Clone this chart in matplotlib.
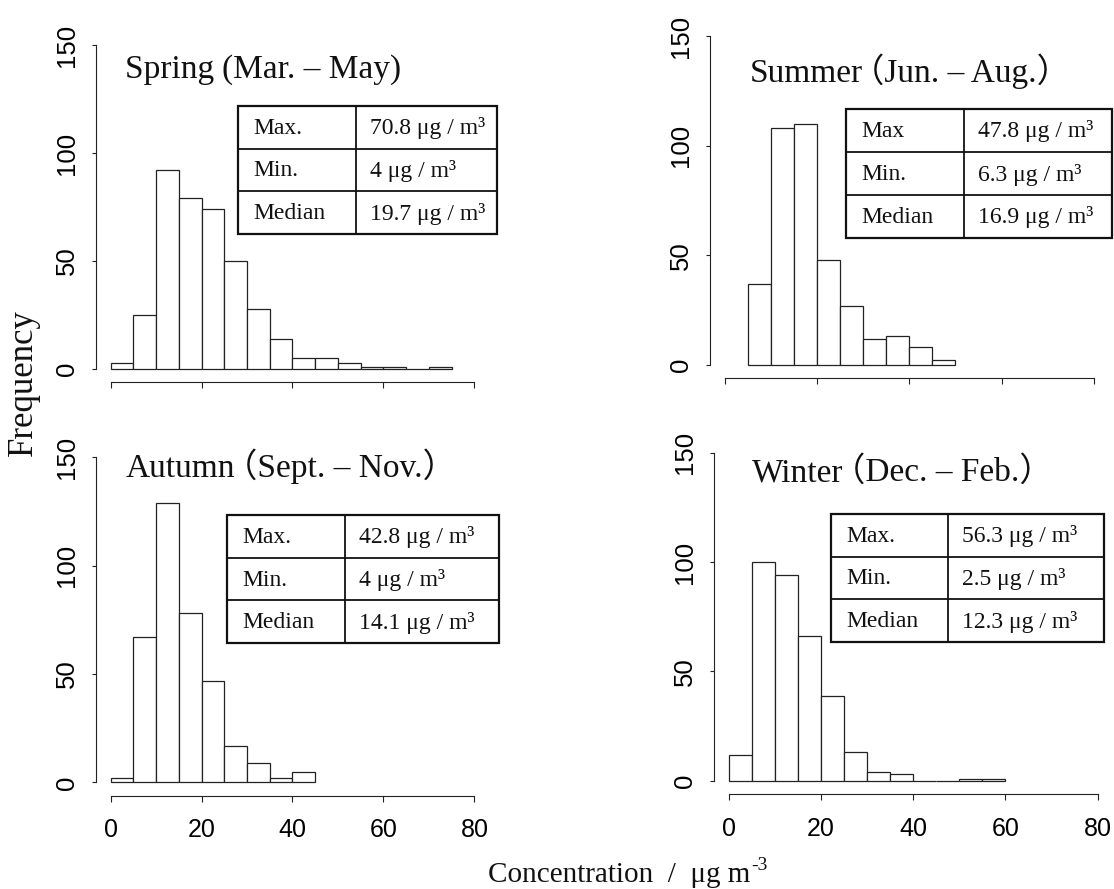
import matplotlib
matplotlib.use("Agg")
import matplotlib.pyplot as plt
import numpy as np

# ---------------- data ----------------
bin_width = 5
spring_start = 0
spring_counts = [3, 25, 92, 79, 74, 50, 28, 14, 5, 5, 3, 1, 1, 0, 1]
summer_start = 5
summer_counts = [37, 108, 110, 48, 27, 12, 13, 8, 2]
autumn_start = 0
autumn_counts = [2, 67, 129, 78, 47, 17, 9, 2, 5]
winter_start = 0
winter_counts = [12, 100, 94, 66, 39, 13, 4, 3, 0, 0, 1, 1]

# titles split into (name, period) pieces
season_names = ["Spring ", "Summer", "Autumn", "Winter"]
season_periods = ["(Mar. – May)", "（Jun. – Aug.）",
                  "（Sept. – Nov.）", "（Dec. – Feb.）"]
stat_labels_spring = ["Max.", "Min.", "Median"]
stat_labels_summer = ["Max", "Min.", "Median"]
stat_labels_autumn = ["Max.", "Min.", "Median"]
stat_labels_winter = ["Max.", "Min.", "Median"]
spring_stats = ["70.8", "4", "19.7"]
summer_stats = ["47.8", "6.3", "16.9"]
autumn_stats = ["42.8", "4", "14.1"]
winter_stats = ["56.3", "2.5", "12.3"]
unit = " μg / m³"

x_ticks = [0, 20, 40, 60, 80]
y_ticks = [0, 50, 100, 150]
y_label = "Frequency"
x_label_main = "Concentration  /  μg m"
x_label_sup = "-3"

# ---------------- style ----------------
W, H = 1114, 889
fig = plt.figure(figsize=(W / 100, H / 100), dpi=100)
fig.patch.set_facecolor("white")

serif = ["Liberation Serif", "Noto Sans CJK JP", "DejaVu Serif"]
tick_font_y = ["Liberation Sans Narrow", "Liberation Sans", "DejaVu Sans"]
tick_font_x = ["Liberation Sans", "DejaVu Sans"]
line_c = "#222222"
text_c = "#111111"


def px_axes(L, R, T, B):
    return fig.add_axes([L / W, 1 - B / H, (R - L) / W, (B - T) / H])


panels = [
    (spring_counts, spring_start, (96, 489, 32, 382), False),
    (summer_counts, summer_start, (710, 1108.6, 23, 378), False),
    (autumn_counts, autumn_start, (96, 489, 444, 795.5), True),
    (winter_counts, winter_start, (714, 1112.5, 439.5, 794), True),
]

for counts, start, box, show_x in panels:
    ax = px_axes(*box)
    edges = start + bin_width * np.arange(len(counts))
    ax.bar(edges, counts, width=bin_width, align="edge", facecolor="white",
           edgecolor=line_c, linewidth=0.9)
    ax.set_xlim(-3.2, 83.2)
    ax.set_ylim(-6, 156)
    ax.patch.set_alpha(0)
    for s in ["top", "right"]:
        ax.spines[s].set_visible(False)
    ax.spines["left"].set_bounds(0, 150)
    ax.spines["bottom"].set_bounds(0, 80)
    for s in ["left", "bottom"]:
        ax.spines[s].set_linewidth(0.8)
        ax.spines[s].set_color(line_c)
    ax.set_xticks(x_ticks)
    ax.set_yticks(y_ticks)
    ax.tick_params(axis="x", length=4.3, width=0.8, color=line_c, pad=12,
                   labelsize=18, labelbottom=show_x)
    ax.tick_params(axis="y", length=3, width=0.8, color=line_c, pad=9,
                   labelsize=18.5, labelrotation=90)
    for lab in ax.get_yticklabels():
        lab.set_family(tick_font_y)
        lab.set_va("center")
    for lab in ax.get_xticklabels():
        lab.set_family(tick_font_x)

# overlay in pixel coordinates for titles, tables and figure labels
ov = fig.add_axes([0, 0, 1, 1], zorder=10)
ov.set_xlim(0, W)
ov.set_ylim(H, 0)
ov.set_axis_off()
ov.patch.set_alpha(0)

renderer = fig.canvas.get_renderer()


def text_width_px(t):
    bb = t.get_window_extent(renderer=renderer)
    return bb.width


title_size = 24
title_pos = [(125, 78), (750, 82), (126, 477), (752, 481)]
for (tx, ty), name, period in zip(title_pos, season_names, season_periods):
    t1 = ov.text(tx, ty, name, family=serif, fontsize=title_size, ha="left",
                 va="baseline", color=text_c)
    w1 = text_width_px(t1)
    # compress the wide left bearing of full-width bracket
    shift = 0.36 * title_size * 100 / 72 if period.startswith("（") else 0
    ov.text(tx + w1 - shift, ty, period, family=serif, fontsize=title_size,
            ha="left", va="baseline", color=text_c)

tables = [
    (stat_labels_spring, spring_stats, (238, 497, 106, 234, 356)),
    (stat_labels_summer, summer_stats, (846, 1112, 109, 238, 964)),
    (stat_labels_autumn, autumn_stats, (227, 499, 515, 643, 345)),
    (stat_labels_winter, winter_stats, (831, 1104, 514, 642, 948)),
]
for labels, vals, (L, R, T, B, C) in tables:
    rh = (B - T) / 3
    ov.add_patch(plt.Rectangle((L, T), R - L, B - T, fill=False,
                               edgecolor=text_c, linewidth=1.6))
    ov.plot([C, C], [T, B], color=text_c, lw=1.3)
    for i in (1, 2):
        ov.plot([L, R], [T + i * rh, T + i * rh], color=text_c, lw=1.3)
    for i, (lab, v) in enumerate(zip(labels, vals)):
        yc = T + (i + 0.5) * rh + 1
        ov.text(L + 15, yc, lab, family=serif, fontsize=17, ha="left",
                va="center", color=text_c)
        ov.text(C + 14, yc, v + unit, family=serif, fontsize=17,
                ha="left", va="center", color=text_c)

ov.text(23, 383, y_label, family=serif, fontsize=25, rotation=90,
        ha="center", va="center", color=text_c)
xl = ov.text(488, 882, x_label_main, family=serif, fontsize=21, ha="left",
             va="baseline", color=text_c)
wxl = text_width_px(xl)
ov.text(488 + wxl + 1, 870, x_label_sup, family=serif, fontsize=14,
        ha="left", va="baseline", color=text_c)

fig.savefig("out.png", dpi=100, facecolor="white")
